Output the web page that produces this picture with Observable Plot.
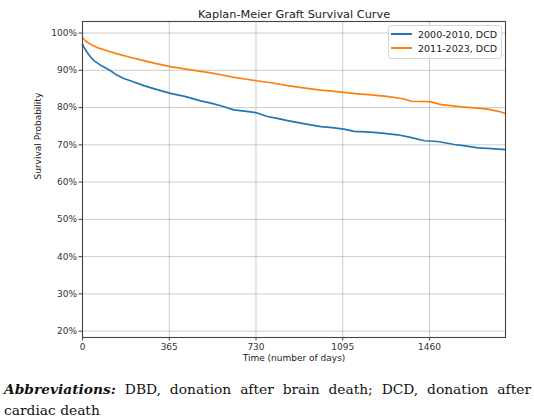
<!DOCTYPE html>
<html>
<head>
<meta charset="utf-8">
<script src="https://cdn.jsdelivr.net/npm/d3@7"></script>
<script src="https://cdn.jsdelivr.net/npm/@observablehq/plot@0.6"></script>
<style>
  html, body { margin: 0; padding: 0; background: #fff; }
  #wrap { position: relative; width: 534px; }
  #legend {
    position: absolute; left: 388px; top: 25px; width: 112px; height: 32px;
    border: 1px solid #d6d6d6; border-radius: 3px; background: rgba(255,255,255,0.85);
    font-family: "DejaVu Sans", sans-serif; font-size: 9.5px; color: #222;
  }
  .li { position: absolute; left: 2px; height: 12px; display: flex; align-items: center; }
  .li span.sw { display: inline-block; width: 21px; height: 2px; margin-right: 6px; }
  #caption {
    font-family: "DejaVu Serif", "Liberation Serif", serif; font-size: 13.8px; line-height: 21px;
    color: #111; width: 527px; margin: 7px 0 0 4px;
  }
  #caption .l1 { text-align: justify; text-align-last: justify; }
</style>
</head>
<body>
<div id="wrap">
  <div id="chart"></div>
  <div id="legend"></div>
</div>
<div id="caption"><div class="l1"><b><i>Abbreviations:</i></b> DBD, donation after brain death; DCD, donation after</div><div>cardiac death</div></div>
<script>
const seriesNames = ["2000-2010, DCD", "2011-2023, DCD"];
const seriesColors = ["#1f77b4", "#ff7f0e"];

const blueDays = [0,5,10,18,25,35,48,62,80,98,118,140,174,210,258,310,370,430,497,540,582,636,690,732,778,820,863,930,1003,1050,1100,1143,1214,1270,1326,1380,1439,1495,1530,1565,1610,1664,1720,1780];
const blueSurv = [97.0,96.3,95.8,95.0,94.3,93.5,92.6,92.0,91.2,90.6,89.9,88.9,87.8,87.0,85.9,84.9,83.8,83.0,81.8,81.2,80.5,79.4,79.0,78.6,77.6,77.1,76.5,75.7,74.9,74.6,74.2,73.6,73.4,73.1,72.7,72.0,71.1,70.9,70.5,70.1,69.7,69.2,69.0,68.7];

const orangeDays = [0,8,20,40,62,100,146,200,258,310,370,430,497,540,582,638,690,732,800,863,930,1003,1050,1100,1160,1214,1280,1354,1382,1463,1509,1550,1593,1650,1706,1750,1780];
const orangeSurv = [98.8,98.2,97.5,96.8,96.1,95.3,94.4,93.5,92.6,91.8,91.0,90.4,89.7,89.3,88.8,88.1,87.6,87.2,86.6,85.9,85.3,84.7,84.4,84.1,83.7,83.4,83.0,82.3,81.7,81.6,80.8,80.5,80.2,79.9,79.6,79.0,78.4];

const xTicks = [0,365,730,1095,1460];
const yTicks = [20,30,40,50,60,70,80,90,100];

const rows = [
  ...blueDays.map((d, i) => ({day: d, surv: blueSurv[i], series: seriesNames[0]})),
  ...orangeDays.map((d, i) => ({day: d, surv: orangeSurv[i], series: seriesNames[1]}))
];

const chart = Plot.plot({
  width: 534,
  height: 372,
  marginLeft: 82,
  marginRight: 29,
  marginTop: 21,
  marginBottom: 35,
  style: {fontFamily: "DejaVu Sans, sans-serif", fontSize: "9px", color: "#333", background: "#fff"},
  x: {domain: [0, 1780], ticks: xTicks, tickSize: 3.5, label: null},
  y: {domain: [18.3, 103.1], ticks: yTicks, tickSize: 3.5, tickFormat: d => d + "%", label: null},
  color: {domain: seriesNames, range: seriesColors},
  marks: [
    Plot.gridX(xTicks, {stroke: "#b0b0b0", strokeOpacity: 0.7, strokeWidth: 0.9}),
    Plot.gridY(yTicks, {stroke: "#b0b0b0", strokeOpacity: 0.7, strokeWidth: 0.9}),
    Plot.line(rows, {x: "day", y: "surv", z: "series", stroke: "series", strokeWidth: 1.7, curve: "linear"}),
    Plot.frame({stroke: "#444", strokeWidth: 1.1}),
    Plot.axisX({ticks: xTicks, tickSize: 3.5, tickPadding: 3, tickFormat: d => String(d), label: null, fontSize: 9, stroke: "#444"}),
    Plot.axisY({ticks: yTicks, tickSize: 3.5, tickPadding: 2, tickFormat: d => d + "%", label: null, fontSize: 9, stroke: "#444"}),
    Plot.text(["Kaplan-Meier Graft Survival Curve"], {frameAnchor: "top", dy: -12, fontSize: 11.3, fill: "#222"}),
    Plot.text(["Time (number of days)"], {frameAnchor: "bottom", dy: 23, fontSize: 9, fill: "#222"}),
    Plot.text(["Survival Probability"], {frameAnchor: "left", dx: -44, rotate: -90, fontSize: 9, fill: "#222"})
  ]
});
document.getElementById("chart").appendChild(chart);

const legend = document.getElementById("legend");
seriesNames.forEach((name, i) => {
  const item = document.createElement("div");
  item.className = "li";
  item.style.top = (i === 0 ? 2 : 16) + "px";
  item.innerHTML = `<span class="sw" style="background:${seriesColors[i]}"></span>${name}`;
  legend.appendChild(item);
});
</script>
</body>
</html>
